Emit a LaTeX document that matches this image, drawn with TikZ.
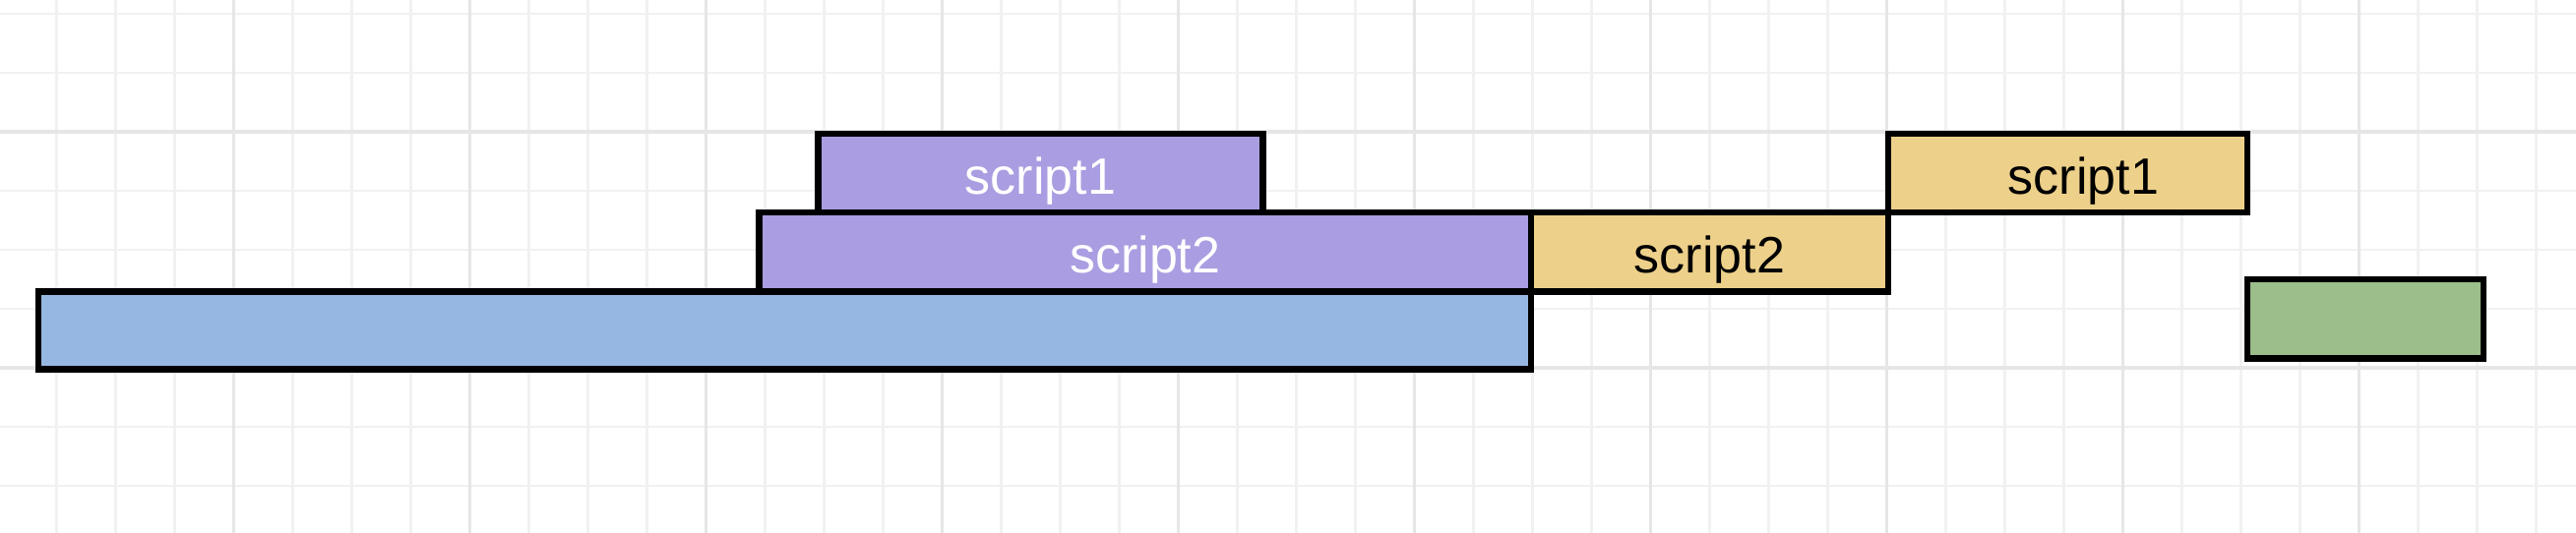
\documentclass[tikz,border=0pt]{standalone}
\usepackage{fontspec}
\setmainfont{Liberation Sans}
\usetikzlibrary{fit}
\definecolor{gridminor}{HTML}{F1F1F1}
\definecolor{gridmajor}{HTML}{E6E6E6}
\definecolor{boxblue}{RGB}{150,183,225}
\definecolor{boxpurple}{RGB}{170,157,225}
\definecolor{boxyellow}{RGB}{237,208,138}
\definecolor{boxgreen}{RGB}{155,190,138}
\begin{document}
\begin{tikzpicture}[x=0.25pt,y=-0.25pt,
  bar/.style={draw=black, line width=1.65pt, inner sep=0pt, outer sep=0pt},
  lbl/.style={anchor=base, inner sep=0pt, font=\fontsize{13}{15}\selectfont},
  minorline/.style={draw=gridminor, line width=0.7pt},
  majorline/.style={draw=gridmajor, line width=0.95pt}]
\fill[white] (0,0) rectangle (2618,542);
\useasboundingbox (0,0) rectangle (2618,542);
% grid
\foreach \xx in {57.5,117.5,...,2577.5} \draw[minorline] (\xx,0) -- (\xx,542);
\foreach \yy in {14,74,...,494} \draw[minorline] (0,\yy) -- (2618,\yy);
\foreach \xx in {237.5,477.5,...,2397.5} \draw[majorline] (\xx,0) -- (\xx,542);
\foreach \yy in {134,374} \draw[majorline] (0,\yy) -- (2618,\yy);
% bars
\node[bar, fill=boxblue, fit={(39,296.5) (1556,375.5)}] (blue) {};
\node[bar, fill=boxpurple, fit={(771.5,216) (1556,296.5)}] (purple2) {};
\node[bar, fill=boxpurple, fit={(831.5,136) (1283.5,216)}] (purple1) {};
\node[bar, fill=boxyellow, fit={(1556,216) (1919,296.5)}] (yellow2) {};
\node[bar, fill=boxyellow, fit={(1919,136) (2284,216)}] (yellow1) {};
\node[bar, fill=boxgreen, fit={(2284,284) (2524,364.5)}] (green) {};
% labels
\node[lbl, text=white] (p1t) at (1057.5,197.5) {script1};
\node[lbl, text=white] (p2t) at (1163.75,277.5) {script2};
\node[lbl, text=black] (y2t) at (1737.5,277.5) {script2};
\node[lbl, text=black] (y1t) at (2117.5,197.5) {script1};
\end{tikzpicture}
\end{document}
